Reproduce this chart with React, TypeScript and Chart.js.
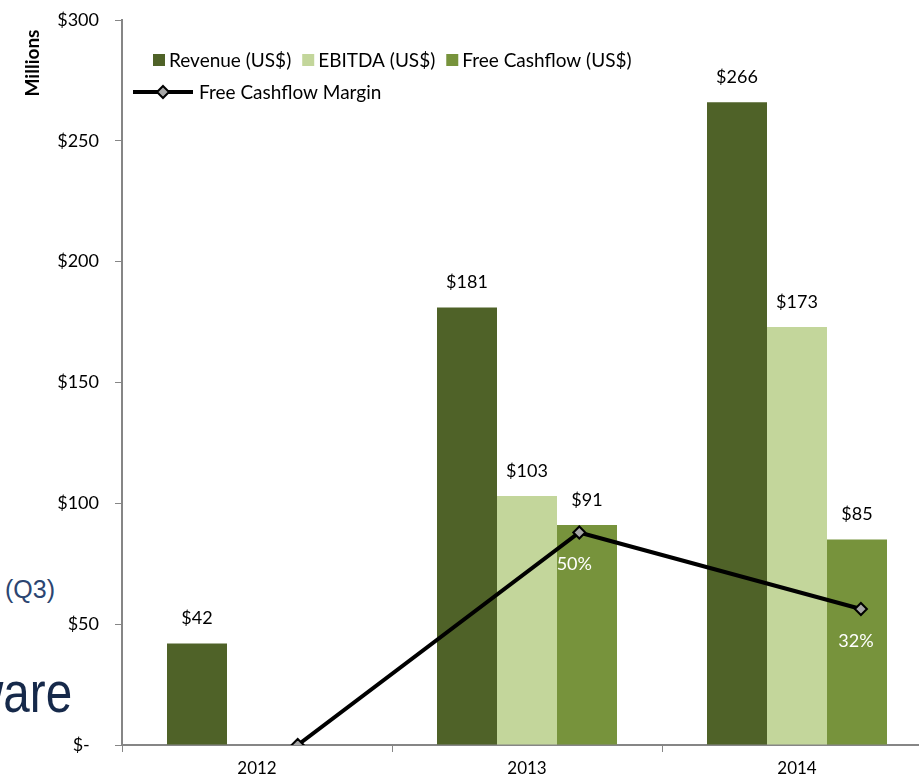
import React, { useEffect, useRef } from "react";
import { Chart, registerables, BarController } from "chart.js";

Chart.register(...registerables);

// Chart.js 4.5 divides the group width by the number of distinct index axes
// across all datasets; the margin line lives on its own hidden x axis, so keep
// the bar groups sized for the bar axis only.
(BarController.prototype as any)._getAxisCount = function () {
  return 1;
};

// ---- data ----
const years = ["2012", "2013", "2014"];
const revenue: (number | null)[] = [42, 181, 266];
const ebitda: (number | null)[] = [null, 103, 173];
const freeCashflow: (number | null)[] = [null, 91, 85];
const fcfMargin: number[] = [0, 50, 32];
const marginLabels: (string | null)[] = [null, "50%", "32%"];
const yTicks = [0, 50, 100, 150, 200, 250, 300];

const seriesNames = ["Revenue (US$)", "EBITDA (US$)", "Free Cashflow (US$)"];
const lineName = "Free Cashflow Margin";

const COLORS = ["#4F6228", "#C3D69B", "#77933C"];
const AXIS = "#868686";
const FONT = 'Lato, "Open Sans", sans-serif';

const labelsPlugin = {
  id: "customLabels",
  afterDatasetsDraw(chart: any) {
    const ctx = chart.ctx;
    ctx.save();
    ctx.font = `18px ${FONT}`;
    ctx.fillStyle = "#000";
    ctx.textAlign = "center";
    ctx.textBaseline = "middle";
    for (let d = 0; d < 3; d++) {
      const meta = chart.getDatasetMeta(d);
      const data = chart.data.datasets[d].data;
      meta.data.forEach((el: any, i: number) => {
        const v = data[i];
        if (v === null || v === undefined) return;
        ctx.fillText(`$${Math.round(v)}`, el.x, el.y - 25);
      });
    }
    const lm = chart.getDatasetMeta(3);
    ctx.fillStyle = "#FFFFFF";
    lm.data.forEach((el: any, i: number) => {
      const t = marginLabels[i];
      if (!t) return;
      ctx.fillText(t, el.x - 5, el.y + 32);
    });
    ctx.restore();
  },
  afterDraw(chart: any) {
    const ctx = chart.ctx;
    ctx.save();
    ctx.translate(33, 63);
    ctx.rotate(-Math.PI / 2);
    ctx.font = `bold 19px ${FONT}`;
    ctx.fillStyle = "#000";
    ctx.textAlign = "center";
    ctx.textBaseline = "middle";
    ctx.fillText("Millions", 0, 0);
    ctx.restore();

    ctx.save();
    ctx.font = `19px ${FONT}`;
    ctx.textBaseline = "middle";
    ctx.textAlign = "left";
    let x = 153;
    const y1 = 60;
    seriesNames.forEach((name, i) => {
      ctx.fillStyle = COLORS[i];
      ctx.fillRect(x, y1 - 6, 12, 12);
      ctx.fillStyle = "#000";
      ctx.fillText(name, x + 16, y1 + 1);
      x += 16 + ctx.measureText(name).width + 11;
    });
    const y2 = 92;
    ctx.strokeStyle = "#000";
    ctx.lineWidth = 4;
    ctx.beginPath();
    ctx.moveTo(133, y2);
    ctx.lineTo(193, y2);
    ctx.stroke();
    ctx.beginPath();
    ctx.moveTo(163, y2 - 6);
    ctx.lineTo(169, y2);
    ctx.lineTo(163, y2 + 6);
    ctx.lineTo(157, y2);
    ctx.closePath();
    ctx.fillStyle = "#A6A6A6";
    ctx.fill();
    ctx.lineWidth = 2;
    ctx.stroke();
    ctx.fillStyle = "#000";
    ctx.fillText(lineName, 199, y2 + 1);
    ctx.restore();
  },
};

export default function App() {
  const ref = useRef<HTMLCanvasElement | null>(null);

  useEffect(() => {
    if (!ref.current) return;
    Chart.defaults.font.family = FONT;
    const spacing = 281.6;
    const first = 297.7 - 122;
    const plotW = 810;
    const xMin = -first / spacing;
    const xMax = xMin + plotW / spacing;

    const chart = new Chart(ref.current, {
      type: "bar",
      data: {
        labels: years,
        datasets: [
          { label: seriesNames[0], data: revenue, backgroundColor: COLORS[0], xAxisID: "x", yAxisID: "y", order: 2 },
          { label: seriesNames[1], data: ebitda, backgroundColor: COLORS[1], xAxisID: "x", yAxisID: "y", order: 2 },
          { label: seriesNames[2], data: freeCashflow, backgroundColor: COLORS[2], xAxisID: "x", yAxisID: "y", order: 2 },
          {
            type: "line",
            label: lineName,
            data: fcfMargin.map((m, i) => ({ x: i, y: m })),
            xAxisID: "xLine",
            yAxisID: "yPct",
            borderColor: "#000",
            borderWidth: 4,
            pointStyle: "rectRot",
            pointRadius: 6,
            pointBackgroundColor: "#A6A6A6",
            pointBorderColor: "#000",
            pointBorderWidth: 2,
            tension: 0,
            order: 1,
          } as any,
        ],
      },
      options: {
        responsive: false,
        animation: false,
        layout: { padding: { top: 20, right: 8, left: 0, bottom: 0 } },
        datasets: { bar: { barPercentage: 1, categoryPercentage: 2 / 3 } },
        plugins: { legend: { display: false }, tooltip: { enabled: false } },
        scales: {
          x: {
            type: "category",
            offset: true,
            grid: { display: true, drawOnChartArea: false, drawTicks: true, tickLength: 7, color: AXIS, offset: true },
            border: { color: AXIS, width: 2 },
            ticks: { color: "#000", font: { size: 17 }, padding: 6 },
            afterFit: (s: any) => { s.height = 35; s.paddingLeft = 0; s.paddingRight = 0; },
          },
          y: {
            type: "linear",
            min: 0,
            max: 300,
            afterBuildTicks: (s: any) => { s.ticks = yTicks.map((v) => ({ value: v })); },
            grid: { display: true, drawOnChartArea: false, drawTicks: true, tickLength: 7, color: AXIS },
            border: { color: AXIS, width: 2 },
            ticks: {
              color: "#000",
              font: { size: 18 },
              padding: 16,
              callback: (v: any) => (Number(v) === 0 ? "$-  " : `$${v}`),
            },
            afterFit: (s: any) => { s.width = 122; s.paddingTop = 0; s.paddingBottom = 0; },
          },
          xLine: { type: "linear", display: false, offset: false, grid: { offset: false }, min: xMin, max: xMax },
          yPct: { type: "linear", display: false, min: 0, max: 170.6 },
        },
      },
      plugins: [labelsPlugin],
    });
    return () => chart.destroy();
  }, []);

  return (
    <div style={{ position: "fixed", left: 0, top: 0, width: 919, height: 780, overflow: "hidden", background: "#fff" }}>
      <span style={{ position: "absolute", left: 5, top: 574, fontFamily: '"Liberation Sans", Arial, sans-serif', fontSize: 25, lineHeight: "30px", color: "#2B4571", whiteSpace: "nowrap" }}>(Q3)</span>
      <span style={{ position: "absolute", left: -31, top: 660, fontFamily: '"Liberation Sans", Arial, sans-serif', fontSize: 58, color: "#16294A", whiteSpace: "nowrap", lineHeight: "64px", transform: "scaleX(0.82)", transformOrigin: "0 0" }}>ware</span>
      <canvas ref={ref} width={940} height={780} style={{ position: "absolute", left: 0, top: 0, width: 940, height: 780 }} />
    </div>
  );
}
